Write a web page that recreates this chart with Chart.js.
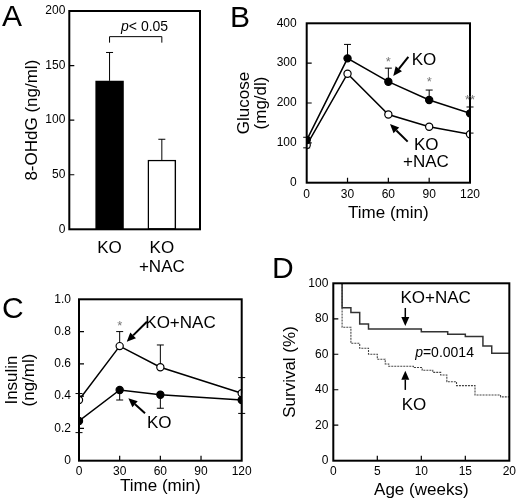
<!DOCTYPE html>
<html>
<head>
<meta charset="utf-8">
<script src="https://cdn.jsdelivr.net/npm/chart.js@4"></script>
<style>
  body { margin: 0; background: #fff; width: 520px; height: 502px; position: relative; overflow: hidden; }
  canvas { position: absolute; }
</style>
</head>
<body>
<canvas id="cA" width="260" height="285" style="left:0;top:0"></canvas>
<canvas id="cB" width="295" height="250" style="left:225px;top:0"></canvas>
<canvas id="cC" width="260" height="222" style="left:0;top:280px"></canvas>
<canvas id="cD" width="260" height="252" style="left:260px;top:250px"></canvas>
<script>
// ===== Data =====
// A: 8-OHdG
const groupPos = [0, 1];
const ohdgMean = [136, 63.5];
const ohdgErr = [26, 19];

// B: glucose
const glucTime = [0, 30, 60, 90, 120];
const glucKO = [107, 312, 253.5, 207.5, 174];
const glucKOErr = [7, 35, 34, 25, 16];
const glucNAC = [94.5, 273.5, 171, 140.5, 121.5];
const glucNACErr = [-7, 0, 5, 4, 3];

// C: insulin
const insTime = [0, 30, 60, 120];
const insNAC = [0.376, 0.71, 0.579, 0.418];
const insNACErr = [0.04, 0.09, 0.138, 0.097];
const insKO = [0.246, 0.438, 0.409, 0.376];
const insKOErr = [-0.072, -0.062, -0.084, -0.083];

// D: survival (Kaplan-Meier steps)
const nacWeeks = [0, 1, 2, 3, 4, 10, 13, 15, 17, 18, 20];
const nacSurv = [100, 86.2, 83.6, 77, 74.2, 72.7, 71.3, 70, 64.7, 60.5, 60.5];
const koWeeks = [0, 1, 2, 3, 4, 5, 5.9, 6.3, 9.1, 10.1, 11.3, 12.2, 12.9, 14, 16.1, 19, 20];
const koSurv = [100, 75.2, 66.2, 63.4, 60, 57.2, 54.5, 53.2, 52.5, 51, 49.8, 48.3, 44.5, 42.3, 37, 36, 36];

// ===== Style =====
const FONT = '"Liberation Sans", Arial, Helvetica, sans-serif';
Chart.defaults.font.family = FONT;
Chart.defaults.color = '#000';
Chart.defaults.animation = false;

const pts = (xs, ys) => xs.map((x, i) => ({ x, y: ys[i] }));

// ===== Decorations: frame, inward ticks, error bars, labels, arrows =====
function arrow(ctx, x1, y1, x2, y2, w) {
  const a = Math.atan2(y2 - y1, x2 - x1), L = 9, H = 4;
  const bx = x2 - L * Math.cos(a), by = y2 - L * Math.sin(a);
  ctx.lineWidth = w;
  ctx.beginPath(); ctx.moveTo(x1, y1); ctx.lineTo(bx, by); ctx.stroke();
  ctx.beginPath();
  ctx.moveTo(x2, y2);
  ctx.lineTo(bx - H * Math.sin(a), by + H * Math.cos(a));
  ctx.lineTo(bx + H * Math.sin(a), by - H * Math.cos(a));
  ctx.closePath(); ctx.fill();
}

function makeDeco(cfg) {
  return {
    id: 'deco',
    beforeDatasetsDraw(chart) {
      const ctx = chart.ctx, ys = chart.scales.y;
      ctx.save();
      ctx.strokeStyle = '#000'; ctx.lineWidth = 1;
      (cfg.errors || []).forEach(e => {
        const meta = chart.getDatasetMeta(e.ds);
        const vals = chart.data.datasets[e.ds].data;
        meta.data.forEach((el, i) => {
          const d = e.err[i];
          if (!d) return;
          const v = typeof vals[i] === 'object' ? vals[i].y : vals[i];
          const y1 = ys.getPixelForValue(v + d);
          ctx.beginPath();
          ctx.moveTo(el.x, el.y); ctx.lineTo(el.x, y1);
          ctx.moveTo(el.x - 3.5, y1); ctx.lineTo(el.x + 3.5, y1);
          ctx.stroke();
        });
      });
      ctx.restore();
    },
    afterDraw(chart) {
      const ctx = chart.ctx, a = chart.chartArea;
      const xs = chart.scales.x, ys = chart.scales.y;
      const px = v => xs.getPixelForValue(v), py = v => ys.getPixelForValue(v);
      ctx.save();
      ctx.strokeStyle = '#000'; ctx.fillStyle = '#000';
      // inward ticks
      ctx.lineWidth = 1.2;
      ctx.beginPath();
      (cfg.yt || []).forEach(v => { ctx.moveTo(a.left, py(v)); ctx.lineTo(a.left + 5, py(v)); });
      (cfg.xt || []).forEach(v => { ctx.moveTo(px(v), a.bottom); ctx.lineTo(px(v), a.bottom - 5); });
      ctx.stroke();
      // frame
      ctx.lineWidth = 2;
      ctx.strokeRect(a.left, a.top, a.right - a.left, a.bottom - a.top);
      // bracket / polylines
      ctx.lineWidth = 1;
      (cfg.lines || []).forEach(l => {
        ctx.beginPath();
        l.forEach((p, i) => i ? ctx.lineTo(px(p[0]), py(p[1])) : ctx.moveTo(px(p[0]), py(p[1])));
        ctx.stroke();
      });
      // arrows
      (cfg.arrows || []).forEach(r => arrow(ctx, px(r[0]), py(r[1]), px(r[2]), py(r[3]), cfg.aw || 1.5));
      // texts
      ctx.textBaseline = 'alphabetic';
      (cfg.texts || []).forEach(t => {
        let x = px(t.x);
        const y = py(t.y);
        ctx.fillStyle = t.color || '#000';
        ctx.textAlign = t.align || 'left';
        if (t.ip) {
          ctx.textAlign = 'left';
          ctx.font = 'italic ' + t.size + 'px ' + FONT;
          ctx.fillText('p', x, y);
          x += ctx.measureText('p').width;
          ctx.font = t.size + 'px ' + FONT;
          ctx.fillText(t.t, x, y);
        } else {
          ctx.font = t.size + 'px ' + FONT;
          ctx.fillText(t.t, x, y);
        }
      });
      // panel letter
      ctx.fillStyle = '#000'; ctx.textAlign = 'left';
      ctx.font = '30px ' + FONT;
      ctx.fillText(cfg.letter[0], cfg.letter[1], cfg.letter[2]);
      ctx.restore();
    }
  };
}

function axis(o) {
  return {
    type: 'linear', min: o.min, max: o.max, offset: false,
    afterFit: ax => { if (o.w) ax.width = o.w; if (o.h) ax.height = o.h; },
    afterBuildTicks: o.ticksAt ? (ax => { ax.ticks = o.ticksAt.map(v => ({ value: v })); }) : undefined,
    grid: { display: false, drawTicks: false },
    border: { display: false },
    ticks: {
      stepSize: o.step, padding: o.pad, autoSkip: false, maxRotation: 0,
      font: { size: o.fs || 12, lineHeight: 1.15 }, color: '#000',
      callback: o.cb || (v => v)
    },
    title: {
      display: !!o.title, text: o.title || '', color: '#000',
      font: { size: 17, lineHeight: o.lh || 1.2 },
      padding: o.tpad
    }
  };
}

const lineDs = (data, filled) => ({
  data, showLine: true, borderColor: '#000', borderWidth: 1.5,
  pointRadius: 3.6, pointBorderWidth: 1.2, pointBorderColor: '#000',
  pointBackgroundColor: filled ? '#000' : '#fff'
});

const common = (padding) => ({
  responsive: false,
  layout: { padding },
  plugins: { legend: { display: false }, tooltip: { enabled: false } }
});

// ===== A: bar chart =====
new Chart(document.getElementById('cA'), {
  type: 'bar',
  data: {
    datasets: [{
      data: pts(groupPos, ohdgMean),
      backgroundColor: ['#000', '#fff'],
      borderColor: '#000', borderWidth: 1.5,
      barThickness: 28, borderSkipped: false
    }]
  },
  options: {
    ...common({ left: 0, top: 11, right: 60, bottom: 0.7 }),
    scales: {
      x: axis({ min: -0.77, max: 1.73, h: 55, pad: 9, fs: 17, ticksAt: groupPos,
        cb: v => (v === 0 ? 'KO' : ['KO', '+NAC']) }),
      y: axis({ min: 0, max: 200, step: 50, w: 69.3, pad: 4, title: '8-OHdG (ng/ml)',
        tpad: { top: 22, bottom: 0 } })
    }
  },
  plugins: [makeDeco({
    letter: ['A', 2, 26],
    yt: [50, 100, 150],
    errors: [{ ds: 0, err: ohdgErr }],
    lines: [[[0, 171], [0, 176.5], [1, 176.5], [1, 171]]],
    texts: [{ t: '< 0.05', ip: true, x: 0.22, y: 182, size: 14 }]
  })]
});

// ===== B: glucose =====
new Chart(document.getElementById('cB'), {
  type: 'scatter',
  data: { datasets: [lineDs(pts(glucTime, glucKO), true), lineDs(pts(glucTime, glucNAC), false)] },
  options: {
    ...common({ left: 0, top: 23.3, right: 50, bottom: 22.3 }),
    scales: {
      x: axis({ min: 0, max: 120, step: 30, h: 45, pad: 5, title: 'Time (min)', tpad: { top: 0, bottom: 4 } }),
      y: axis({ min: 0, max: 400, step: 100, w: 81.7, pad: 10, title: ['Glucose', '(mg/dl)'], lh: 1.05,
        tpad: { top: 10, bottom: 0 } })
    }
  },
  plugins: [makeDeco({
    letter: ['B', 5, 27],
    yt: [100, 200, 300], xt: [30, 60, 90],
    errors: [{ ds: 0, err: glucKOErr }, { ds: 1, err: glucNACErr }],
    arrows: [[74.7, 316, 63.6, 268], [74.2, 103, 61.2, 147]], aw: 2,
    texts: [
      { t: 'KO', x: 77.2, y: 295, size: 17 },
      { t: 'KO', x: 78.8, y: 82, size: 17 },
      { t: '+NAC', x: 70.8, y: 39.4, size: 17 },
      { t: '*', x: 60, y: 294, size: 13, align: 'center', color: '#777' },
      { t: '*', x: 90, y: 242, size: 13, align: 'center', color: '#777' },
      { t: '**', x: 120, y: 198, size: 13, align: 'center', color: '#777' }
    ]
  })]
});

// ===== C: insulin =====
new Chart(document.getElementById('cC'), {
  type: 'scatter',
  data: { datasets: [lineDs(pts(insTime, insKO), true), lineDs(pts(insTime, insNAC), false)] },
  options: {
    ...common({ left: 0, top: 19.3, right: 18.3, bottom: 1.3 }),
    scales: {
      x: axis({ min: 0, max: 120, step: 30, h: 40, pad: 4, title: 'Time (min)', tpad: { top: 0, bottom: 4.5 } }),
      y: axis({ min: 0, max: 1, step: 0.2, w: 79, pad: 8, title: ['Insulin', '(ng/ml)'], lh: 1.0,
        tpad: { top: 4, bottom: 0 }, cb: v => (v === 0 ? '0' : v.toFixed(1)) })
    }
  },
  plugins: [makeDeco({
    letter: ['C', 2, 38],
    yt: [0.2, 0.4, 0.6, 0.8], xt: [30, 60, 90],
    errors: [{ ds: 0, err: insKOErr }, { ds: 1, err: insNACErr }],
    arrows: [[50.1, 0.861, 35.2, 0.737], [48.7, 0.294, 36.4, 0.387]], aw: 2,
    texts: [
      { t: 'KO+NAC', x: 48.9, y: 0.822, size: 17 },
      { t: 'KO', x: 50.1, y: 0.203, size: 17 },
      { t: '*', x: 30, y: 0.81, size: 13, align: 'center', color: '#777' }
    ]
  })]
});

// ===== D: survival =====
new Chart(document.getElementById('cD'), {
  type: 'scatter',
  data: {
    datasets: [
      { data: pts(nacWeeks, nacSurv), showLine: true, stepped: 'before', borderColor: '#333',
        borderWidth: 1.5, pointRadius: 0 },
      { data: pts(koWeeks, koSurv), showLine: true, stepped: 'before', borderColor: '#444',
        borderWidth: 1.1, borderDash: [2, 1], pointRadius: 0 }
    ]
  },
  options: {
    ...common({ left: 0, top: 33.3, right: 7.3, bottom: 1.3 }),
    scales: {
      x: axis({ min: 0, max: 20, step: 5, h: 40, pad: 4, title: 'Age (weeks)', tpad: { top: 0, bottom: 0.5 } }),
      y: axis({ min: 0, max: 100, step: 20, w: 73.3, pad: 5, title: 'Survival (%)', tpad: { top: 19.8, bottom: 0 } })
    }
  },
  plugins: [makeDeco({
    letter: ['D', 12, 28],
    yt: [20, 40, 60, 80], xt: [5, 10, 15],
    arrows: [[8.18, 86.1, 8.18, 75.9], [8.18, 39.9, 8.18, 50.7]], aw: 1.5,
    texts: [
      { t: 'KO+NAC', x: 7.63, y: 88.7, size: 17 },
      { t: '=0.0014', ip: true, x: 9.3, y: 58.5, size: 14 },
      { t: 'KO', x: 7.77, y: 28.6, size: 17 }
    ]
  })]
});
</script>
</body>
</html>
